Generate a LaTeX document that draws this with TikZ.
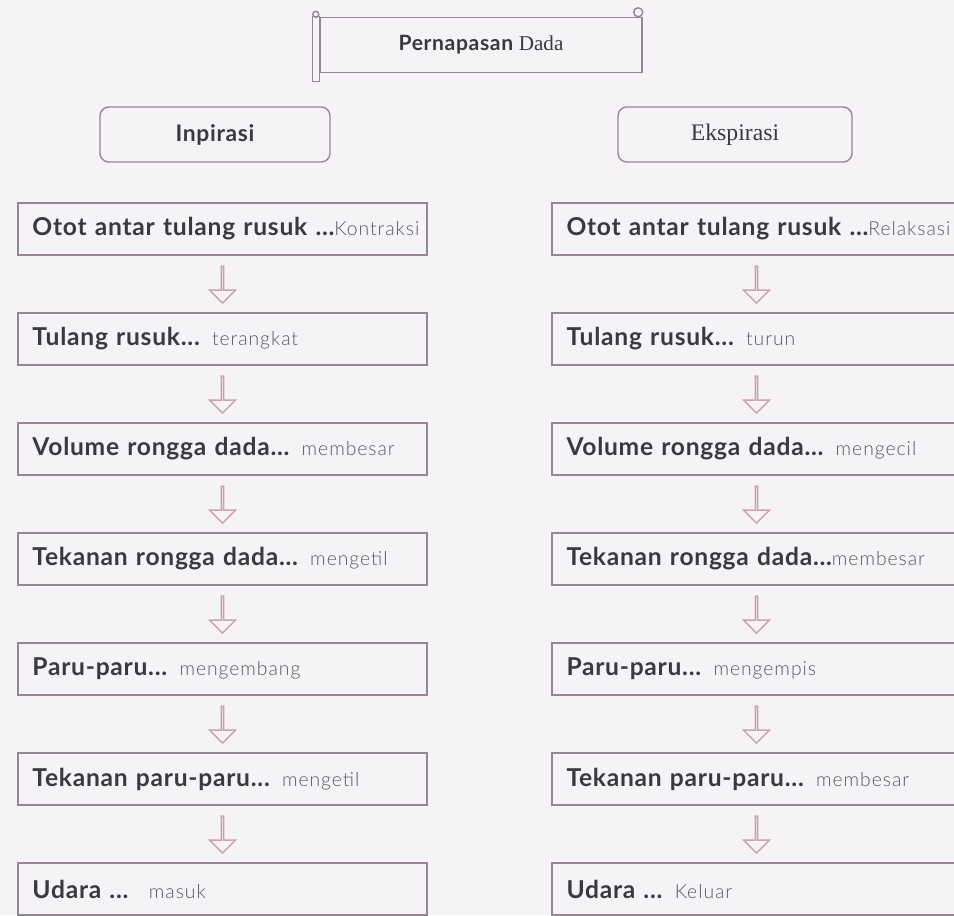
\documentclass[tikz,border=0pt]{standalone}
\usepackage{fontspec}
\setmainfont{Lato}[LetterSpace=3]
\newfontfamily\serif{Liberation Serif}
\newfontfamily\hand{Lato Light}[LetterSpace=5]
\usetikzlibrary{shapes.arrows}
\definecolor{bg}{HTML}{F6F3F7}
\definecolor{boxline}{HTML}{968790}
\definecolor{arrowpink}{HTML}{C9A3AD}
\definecolor{txt}{HTML}{3A393E}
\definecolor{handtxt}{HTML}{5A585E}
\newcommand{\isi}[1]{\mbox{\hand\mdseries\fontsize{11}{13}\selectfont\color{handtxt}#1}}

\begin{document}
\begin{tikzpicture}
    \tikzset{box/.style = {draw=boxline,thick,rectangle,minimum width=8.18cm,minimum height=1.04cm,text width=7.6cm,align=left,inner xsep=0.29cm,font=\fontsize{14}{16}\selectfont\bfseries,text=txt}, head/.style = {draw=boxline,thick,rounded corners=5pt,minimum width=4.6cm,minimum height=1.1cm,text=txt}, down/.style = {single arrow,shape border rotate=270,draw=arrowpink,thick,minimum width=0.52cm,minimum height=0.74cm,single arrow head extend=0.15cm,inner sep=0pt}, scrollline/.style = {draw=boxline,thick}}
    \def\x{4.45}
    \def\y{-4.58}
    \fill[bg] (0,0) rectangle (19.08,-18.3);
    \clip (0,0) rectangle (19.08,-18.3);

    % title scroll
    \node[scrollline,minimum width=6.44cm,minimum height=1.1cm,font=\fontsize{12}{14}\selectfont,text=txt] (judul) at (9.62,-0.9) {\bfseries Pernapasan {\serif\mdseries Dada}};
    \draw[scrollline] ([xshift=-0.14cm]judul.north west) rectangle ([yshift=-0.16cm]judul.south west);
    \draw[scrollline] ([xshift=-0.07cm,yshift=0.05cm]judul.north west) circle (0.06cm);
    \draw[scrollline] ([xshift=-0.09cm,yshift=0.09cm]judul.north east) circle (0.09cm);

    % headers
    \node[head,font=\fontsize{13}{15}\selectfont\bfseries] (insp) at (4.3,-2.69) {Inpirasi};
    \node[head,font=\fontsize{13.5}{15}\selectfont\serif,minimum width=4.68cm] (eksp) at (14.7,-2.69) {Ekspirasi};

    % inspirasi
     \node[box] (L1) at (\x,\y) {\mbox{Otot antar tulang rusuk ...\isi{Kontraksi}}};
     \node[box] (L2) at (\x,\y-2.2) {Tulang rusuk... \isi{terangkat}};
     \node[box] (L3) at (\x,\y-4.4) {Volume rongga dada... \isi{membesar}};
     \node[box] (L4) at (\x,\y-6.6) {Tekanan rongga dada... \isi{mengetil}};
     \node[box] (L5) at (\x,\y-8.8) {Paru-paru... \isi{mengembang}};
     \node[box] (L6) at (\x,\y-11) {Tekanan paru-paru... \isi{mengetil}};
     \node[box] (L7) at (\x,\y-13.2) {Udara ... \ \isi{masuk}};

    % ekspirasi
     \node[box] (R1) at (\x+10.68,\y) {\mbox{Otot antar tulang rusuk ...\isi{Relaksasi}}};
     \node[box] (R2) at (\x+10.68,\y-2.2) {Tulang rusuk... \isi{turun}};
     \node[box] (R3) at (\x+10.68,\y-4.4) {Volume rongga dada... \isi{mengecil}};
     \node[box] (R4) at (\x+10.68,\y-6.6) {Tekanan rongga dada...\isi{membesar}};
     \node[box] (R5) at (\x+10.68,\y-8.8) {Paru-paru... \isi{mengempis}};
     \node[box] (R6) at (\x+10.68,\y-11) {Tekanan paru-paru... \isi{membesar}};
     \node[box] (R7) at (\x+10.68,\y-13.2) {Udara ... \isi{Keluar}};

    \foreach \a/\b in {1/2,2/3,3/4,4/5,5/6,6/7}{
    \path (L\a) -- (L\b) node[down,midway] {};
    \path (R\a) -- (R\b) node[down,midway] {};
    }
\end{tikzpicture}
\end{document}
